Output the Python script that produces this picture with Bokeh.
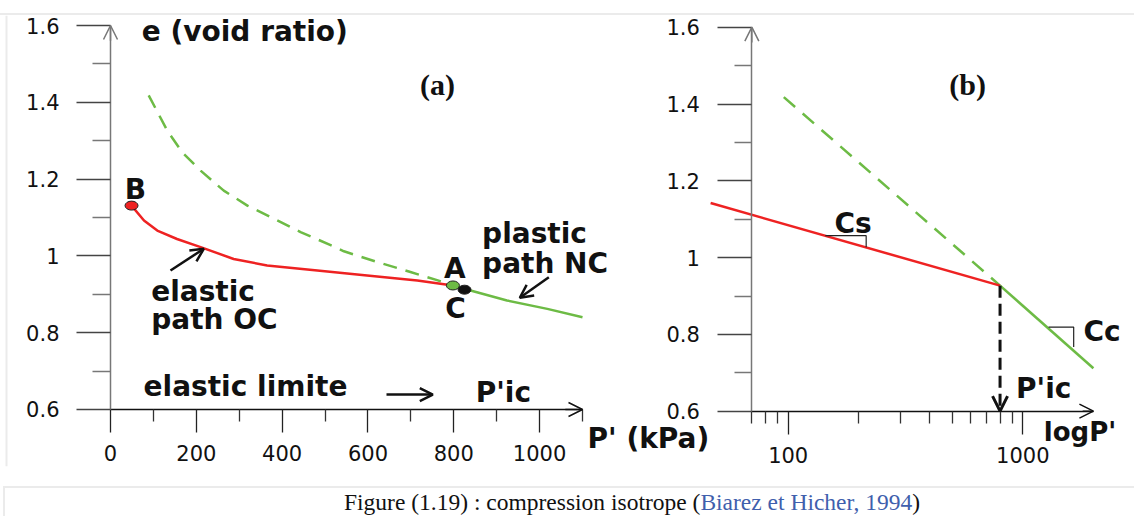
from bokeh.plotting import figure
from bokeh.models import FixedTicker, NumeralTickFormatter, Label, Arrow, OpenHead, Div, Span
from bokeh.layouts import row, column
from bokeh.embed import file_html
from bokeh.resources import INLINE

# ---------------- data : panel (a)  e vs P' (kPa) ----------------
a_ncl_dash_p = [89, 132, 167, 210, 264, 319, 381, 443, 513, 544, 622, 699, 761, 798]
a_ncl_dash_e = [1.418, 1.327, 1.270, 1.222, 1.170, 1.131, 1.097, 1.062, 1.028, 1.012, 0.984, 0.958, 0.937, 0.923]
a_oc_p = [49, 78, 109, 155, 210, 287, 365, 482, 598, 715, 798]
a_oc_e = [1.131, 1.092, 1.066, 1.044, 1.023, 0.992, 0.975, 0.962, 0.949, 0.936, 0.923]
a_nc_p = [798, 839, 924, 1018, 1100]
a_nc_e = [0.923, 0.910, 0.884, 0.862, 0.840]
pts_names = ["B", "A", "C"]
pts_p = [49, 798, 825]
pts_e = [1.131, 0.923, 0.912]

a_x_ticks = [0, 200, 400, 600, 800, 1000]
a_x_minor = [100, 300, 500, 700, 900, 1100]
e_ticks = [0.6, 0.8, 1.0, 1.2, 1.4, 1.6]
e_minor = [0.7, 0.9, 1.1, 1.3, 1.5]

# ---------------- data : panel (b)  e vs log P' ----------------
b_oc_p = [46.7, 800]
b_oc_e = [1.142, 0.927]
b_ncl_dash_p = [95.8, 800]
b_ncl_dash_e = [1.418, 0.927]
b_nc_p = [800, 2000]
b_nc_e = [0.927, 0.712]
cs_p = [144, 215, 215]
cs_e = [1.057, 1.057, 1.027]
cc_p = [1288, 1648, 1648]
cc_e = [0.819, 0.819, 0.767]
pic_p = 800
pic_e = [0.927, 0.6]

b_x_ticks = [100, 1000]
b_x_minor = [70, 80, 90, 200, 300, 400, 500, 600, 700, 800, 900]

RED = "#ee2222"
GREEN = "#6dbb45"
SANS = "DejaVu Sans"
PX_E = 1.0 / 384.0          # e units per screen pixel (both panels)


def style_axes(p, x_ticks, x_minor, x_bounds, x_fixed, xstand, ytick_out, yminor_out, ystand):
    p.xgrid.visible = False
    p.ygrid.visible = False
    p.outline_line_color = None
    xa = p.xaxis[0]
    xa.fixed_location = 0.6
    xa.bounds = x_bounds
    xa.ticker = FixedTicker(ticks=x_ticks, minor_ticks=x_minor)
    xa.formatter = NumeralTickFormatter(format="0")
    xa.axis_line_color = "#111111"
    xa.axis_line_width = 1.5
    xa.major_tick_out = 23
    xa.major_tick_in = 0
    xa.minor_tick_out = 12
    xa.minor_tick_in = 0
    xa.major_tick_line_color = "#222222"
    xa.minor_tick_line_color = "#333333"
    xa.major_tick_line_width = 1.3
    xa.minor_tick_line_width = 1.3
    xa.major_label_standoff = xstand
    xa.major_label_text_font = SANS
    xa.major_label_text_font_size = "21px"
    xa.major_label_text_color = "#111111"
    ya = p.yaxis[0]
    ya.fixed_location = x_fixed
    ya.bounds = (0.6, 1.6)
    ya.ticker = FixedTicker(ticks=e_ticks, minor_ticks=e_minor)
    ya.formatter = NumeralTickFormatter(format="0.[0]")
    ya.axis_line_color = "#777777"
    ya.axis_line_width = 1.5
    ya.major_tick_out = ytick_out
    ya.major_tick_in = 0
    ya.minor_tick_out = yminor_out
    ya.minor_tick_in = 0
    ya.major_tick_line_color = "#444444"
    ya.minor_tick_line_color = "#777777"
    ya.major_tick_line_width = 1.5
    ya.minor_tick_line_width = 1.5
    ya.major_label_standoff = ystand
    ya.major_label_text_font = SANS
    ya.major_label_text_font_size = "21px"
    ya.major_label_text_color = "#111111"


def lab(p, text, x, y, align="center", size="28px", font=SANS, lift=9):
    p.add_layout(Label(x=x, y=y + lift * PX_E, text=text, text_font=font, text_font_size=size,
                       text_font_style="bold", text_color="#111111",
                       text_align=align, text_baseline="alphabetic"))


def arrow(p, x0, y0, x1, y1, color="#111111", width=2.5, size=12, dash="solid"):
    end = OpenHead(size=size, line_width=width, line_color=color)
    p.add_layout(Arrow(x_start=x0, y_start=y0, x_end=x1, y_end=y1, end=end,
                       line_color=color, line_width=width, line_dash=dash))


# ================= panel (a) =================
pa = figure(frame_width=720, frame_height=451, min_border_left=90, min_border_right=0,
            min_border_top=0, min_border_bottom=61,
            x_range=(-256.36, 1421.6), y_range=(0.45156, 1.62604),
            output_backend="svg", toolbar_location=None)
pa.margin = (0, 0, 0, -90)
pa.background_fill_color = "white"
pa.border_fill_color = "white"
style_axes(pa, a_x_ticks, a_x_minor, (0, 1100), 0, 13, 34, 18, 17)

# faint page frame line on the left
pa.add_layout(Span(location=-242.4, dimension="height", line_color="#ebebeb", line_width=2))

pa.line(a_ncl_dash_p, a_ncl_dash_e, line_color=GREEN, line_width=2.5, line_dash="14 9")
pa.line(a_oc_p, a_oc_e, line_color=RED, line_width=2.5)
pa.line(a_nc_p, a_nc_e, line_color=GREEN, line_width=2.5)
pa.ellipse(x=pts_p, y=pts_e, width=13, height=9, width_units="screen", height_units="screen",
           fill_color=[RED, GREEN, "#111111"], line_color="#222222", line_width=1)

# axis arrowheads
arrow(pa, 0, 1.56, 0, 1.6, color="#777777", width=1.5, size=14)
arrow(pa, 1060, 0.6, 1100, 0.6, color="#111111", width=1.5, size=14)
# annotation arrows
arrow(pa, 139.8, 0.962, 217.4, 1.0185, size=13)
arrow(pa, 1021.5, 0.9445, 953.9, 0.891, size=13)
arrow(pa, 643.2, 0.639, 751.1, 0.639, size=13)

lab(pa, "e (void ratio)", 313.0, 1.561)
lab(pa, "(a)", 762.1, 1.4203, size="30px", font="Liberation Serif", lift=10)
lab(pa, "B", 58.3, 1.1487)
lab(pa, "A", 802.2, 0.9445)
lab(pa, "C", 804.0, 0.8404)
lab(pa, "elastic", 94.9, 0.8839, align="left")
lab(pa, "path OC", 94.9, 0.8102, align="left")
lab(pa, "plastic", 866.0, 1.0357, align="left")
lab(pa, "path NC", 866.0, 0.9576, align="left")
lab(pa, "elastic limite", 314.6, 0.6365)
lab(pa, "P'ic", 915.5, 0.6208)
lab(pa, "P' (kPa)", 1253.6, 0.501)

# ================= panel (b) =================
pb = figure(frame_width=474, frame_height=451, min_border_left=88, min_border_right=0,
            min_border_top=0, min_border_bottom=61, x_axis_type="log",
            x_range=(28.56, 2993.6), y_range=(0.45599, 1.63047),
            output_backend="svg", toolbar_location=None)
pb.margin = (0, 0, 0, -148)
pb.background_fill_color = None
pb.border_fill_color = None
style_axes(pb, b_x_ticks, b_x_minor, (70, 2000), 70, 13, 34, 17, 18)

pb.line(b_ncl_dash_p, b_ncl_dash_e, line_color=GREEN, line_width=2.5, line_dash="15 10")
pb.line(b_nc_p, b_nc_e, line_color=GREEN, line_width=2.5)
pb.line(b_oc_p, b_oc_e, line_color=RED, line_width=2.5)
pb.line(cs_p, cs_e, line_color="#222222", line_width=1.2)
pb.line(cc_p, cc_e, line_color="#222222", line_width=1.2)
arrow(pb, pic_p, pic_e[0], pic_p, pic_e[1], color="#111111", width=3, size=15, dash="12 6")

arrow(pb, 70, 1.56, 70, 1.6, color="#777777", width=1.5, size=14)
arrow(pb, 1800, 0.6, 2000, 0.6, color="#111111", width=1.5, size=14)

lab(pb, "(b)", 581.9, 1.4247, size="30px", font="Liberation Serif", lift=10)
lab(pb, "Cs", 188.9, 1.0661)
lab(pb, "Cc", 2177, 0.784)
lab(pb, "P'ic", 1228, 0.6357)
lab(pb, "logP'", 1754, 0.5211, size="26px")

# ================= frame & caption =================
top = Div(text='<div style="width:1134px;height:2px;background:#ebebeb;margin-top:13px"></div>',
          width=1134, height=15, margin=0)
caption = Div(text=('<div style="box-sizing:border-box;width:1131px;height:30px;background:white;'
                    'margin-left:3px;border-top:2px solid #ebebeb;border-left:2px solid #ebebeb;'
                    'padding-left:125px;text-align:center;'
                    "font-family:'Liberation Serif';font-size:23.5px;line-height:28px;color:#111\">"
                    'Figure (1.19) : compression isotrope ('
                    '<span style="color:#3f5fad">Biarez et Hicher, 1994</span>)</div>'),
              width=1134, height=30, margin=(-41, 0, 0, 0))

layout = column(top, row(pa, pb), caption)
open("out.html", "w").write(file_html(layout, INLINE))
